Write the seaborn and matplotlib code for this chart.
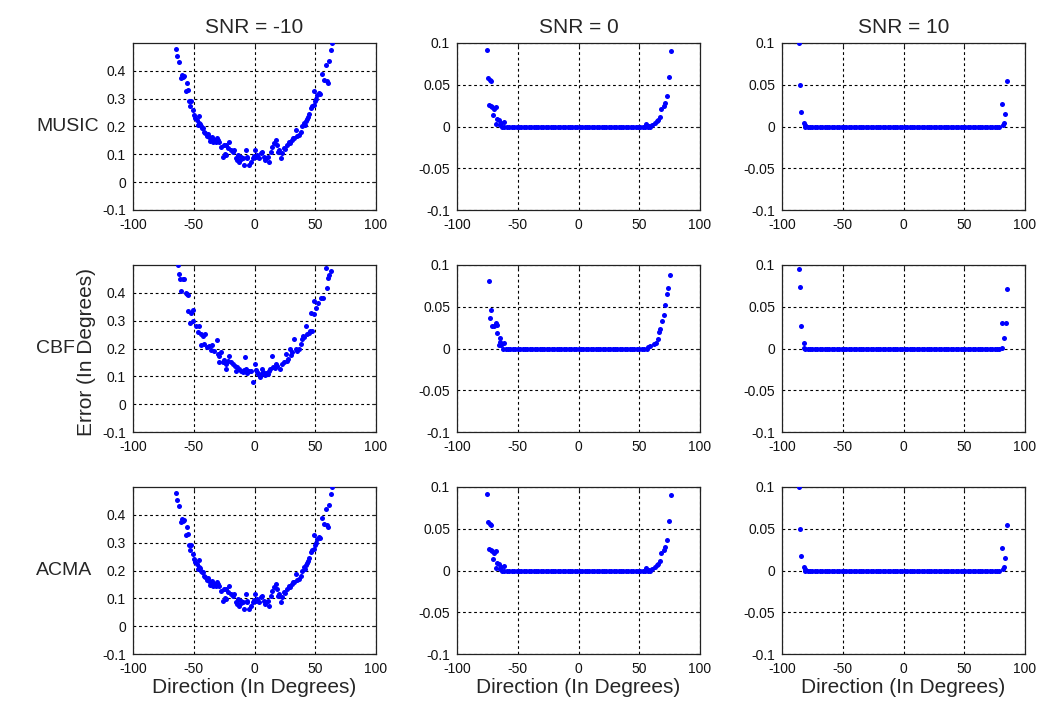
import matplotlib
matplotlib.use("Agg")
import matplotlib.pyplot as plt
import seaborn as sns
import pandas as pd

# ---------------- data ----------------
methods = ["MUSIC", "CBF", "ACMA"]
snr_titles = ["SNR = -10", "SNR = 0", "SNR = 10"]

x_ticks = [-100, -50, 0, 50, 100]
x_tick_labels = ["-100", "-50", "0", "50", "100"]
y_ticks_low = [-0.1, 0, 0.1, 0.2, 0.3, 0.4]
y_tick_labels_low = ["-0.1", "0", "0.1", "0.2", "0.3", "0.4"]
y_ticks_high = [-0.1, -0.05, 0, 0.05, 0.1]
y_tick_labels_high = ["-0.1", "-0.05", "0", "0.05", "0.1"]

# SNR = -10
music_m10_x = [-65.0, -63.9, -61.8, -60.4, -59.5, -58.6, -57.7, -56.3, -55.7, -54.6,
               -54.1, -52.7, -51.9, -50.8, -49.5, -48.6, -47.3, -46.7, -45.9, -45.4,
               -44.5, -44.0, -43.2, -42.6, -41.5, -40.4, -39.3, -38.4, -37.2, -37.0,
               -35.8, -34.9, -34.0, -33.0, -32.0, -31.2, -30.1, -29.0, -27.6, -26.2,
               -25.0, -24.5, -23.5, -23.5, -22.1, -20.8, -19.4, -18.0, -16.7, -15.3,
               -14.5, -13.9, -12.6, -11.5, -10.8, -9.8, -8.5, -7.1, -6.5, -5.8,
               -4.4, -3.0, -1.6, -0.8, 0.5, 1.2, 2.4, 3.8, 5.2, 6.5,
               7.9, 8.8, 9.8, 11.0, 12.0, 13.5, 14.7, 16.1, 17.5, 18.8,
               19.5, 20.2, 21.6, 22.9, 24.3, 25.5, 27.0, 28.4, 29.5, 30.6,
               31.5, 32.5, 33.9, 35.2, 36.6, 38.0, 39.3, 40.7, 41.5, 42.1,
               43.0, 44.2, 45.0, 46.2, 47.5, 48.9, 48.9, 49.7, 50.5, 51.6,
               53.0, 54.0, 55.7, 57.1, 58.5, 59.3, 60.6, 61.2, 62.6, 63.4]
music_m10_y = [0.479, 0.455, 0.431, 0.374, 0.386, 0.378, 0.380, 0.329, 0.356, 0.332,
               0.292, 0.274, 0.290, 0.260, 0.242, 0.230, 0.222, 0.206, 0.236, 0.212,
               0.208, 0.200, 0.196, 0.194, 0.180, 0.176, 0.166, 0.172, 0.164, 0.149,
               0.158, 0.162, 0.146, 0.152, 0.144, 0.158, 0.150, 0.146, 0.128, 0.092,
               0.132, 0.101, 0.134, 0.098, 0.122, 0.146, 0.114, 0.110, 0.116, 0.086,
               0.080, 0.098, 0.074, 0.092, 0.085, 0.086, 0.062, 0.116, 0.088, 0.092,
               0.062, 0.071, 0.086, 0.094, 0.116, 0.090, 0.098, 0.086, 0.104, 0.110,
               0.092, 0.080, 0.086, 0.090, 0.074, 0.110, 0.128, 0.140, 0.152, 0.134,
               0.108, 0.114, 0.086, 0.104, 0.122, 0.120, 0.134, 0.146, 0.140, 0.152,
               0.160, 0.158, 0.188, 0.166, 0.170, 0.182, 0.200, 0.212, 0.205, 0.218,
               0.226, 0.234, 0.246, 0.266, 0.272, 0.278, 0.326, 0.290, 0.300, 0.314,
               0.320, 0.316, 0.389, 0.368, 0.422, 0.362, 0.356, 0.434, 0.475, 0.499]

cbf_m10_x = [-63.1, -62.3, -61.2, -60.4, -59.0, -57.7, -56.3, -55.5, -54.9, -54.6,
             -52.7, -52.2, -50.8, -50.3, -48.1, -46.7, -45.9, -44.0, -44.0, -42.1,
             -41.3, -40.4, -39.3, -37.2, -36.0, -35.0, -33.0, -31.2, -30.3, -29.5,
             -29.0, -27.6, -26.2, -25.0, -23.5, -23.5, -22.1, -20.8, -19.5, -18.0,
             -15.9, -15.3, -14.0, -12.6, -11.2, -9.8, -8.5, -7.6, -7.1, -6.0,
             -4.9, -3.2, -1.6, 0.5, 1.6, 2.4, 3.2, 4.3, 5.0, 6.0,
             7.1, 8.7, 9.5, 10.7, 12.0, 13.0, 14.2, 15.3, 16.5, 17.5,
             18.8, 20.8, 22.4, 24.3, 25.6, 26.5, 27.8, 29.2, 30.0, 31.1,
             32.5, 33.9, 35.2, 36.6, 38.0, 38.8, 39.9, 41.0, 42.1, 43.5,
             44.8, 46.0, 47.0, 46.2, 48.9, 48.9, 50.8, 52.4, 54.4, 56.3,
             59.0, 59.8, 60.6, 61.2, 62.6]
cbf_m10_y = [0.499, 0.467, 0.449, 0.407, 0.449, 0.451, 0.398, 0.395, 0.393, 0.335,
             0.293, 0.329, 0.338, 0.299, 0.281, 0.260, 0.281, 0.251, 0.213, 0.246,
             0.216, 0.251, 0.204, 0.210, 0.195, 0.213, 0.192, 0.230, 0.180, 0.150,
             0.174, 0.186, 0.150, 0.160, 0.144, 0.126, 0.156, 0.174, 0.150, 0.144,
             0.138, 0.120, 0.132, 0.126, 0.118, 0.114, 0.124, 0.168, 0.126, 0.112,
             0.120, 0.118, 0.078, 0.144, 0.122, 0.114, 0.110, 0.096, 0.108, 0.126,
             0.114, 0.105, 0.112, 0.108, 0.120, 0.125, 0.174, 0.132, 0.130, 0.146,
             0.138, 0.126, 0.144, 0.150, 0.180, 0.156, 0.162, 0.198, 0.175, 0.186,
             0.234, 0.198, 0.192, 0.198, 0.216, 0.234, 0.246, 0.240, 0.281, 0.251,
             0.257, 0.262, 0.263, 0.329, 0.323, 0.371, 0.347, 0.362, 0.383, 0.381,
             0.489, 0.419, 0.453, 0.465, 0.479]

acma_m10_x = list(music_m10_x)
acma_m10_y = list(music_m10_y)

# SNR = 0
music_0_tail_x = [-75.7, -74.3, -73.0, -72.2, -73.8, -72.2, -70.8, -69.7, -68.1, -70.3,
                  -67.0, -65.4, -67.6, -64.9, -63.5, -61.6,
                  55.8, 57.7, 60.5, 63.3, 64.6, 65.5, 66.9, 68.2, 70.2, 71.5,
                  72.9, 74.6, 76.0]
music_0_tail_y = [0.092, 0.058, 0.056, 0.054, 0.026, 0.025, 0.023, 0.021, 0.023, 0.014,
                  0.009, 0.008, 0.003, 0.002, 0.004, 0.005,
                  0.003, 0.001, 0.002, 0.004, 0.006, 0.008, 0.011, 0.021, 0.024, 0.028,
                  0.036, 0.059, 0.091]
music_0_flat_x = [-63, -61, -59, -57, -55, -53, -51, -49, -47, -45,
                  -43, -41, -39, -37, -35, -33, -31, -29, -27, -25,
                  -23, -21, -19, -17, -15, -13, -11, -9, -7, -5,
                  -3, -1, 1, 3, 5, 7, 9, 11, 13, 15,
                  17, 19, 21, 23, 25, 27, 29, 31, 33, 35,
                  37, 39, 41, 43, 45, 47, 49, 51, 53, 55,
                  57, 59]
music_0_flat_y = [0, 0, 0, 0, 0, 0, 0, 0, 0, 0,
                  0, 0, 0, 0, 0, 0, 0, 0, 0, 0,
                  0, 0, 0, 0, 0, 0, 0, 0, 0, 0,
                  0, 0, 0, 0, 0, 0, 0, 0, 0, 0,
                  0, 0, 0, 0, 0, 0, 0, 0, 0, 0,
                  0, 0, 0, 0, 0, 0, 0, 0, 0, 0,
                  0, 0]

cbf_0_tail_x = [-73.5, -72.2, -73.0, -71.4, -69.5, -68.2, -67.4, -66.8, -65.0, -64.2,
                -65.5, -63.4, -61.5,
                57.2, 59.1, 61.9, 63.8, 65.5, 66.0, 67.4, 68.8, 70.2, 71.5,
                72.9, 73.8, 75.5]
cbf_0_tail_y = [0.081, 0.046, 0.036, 0.027, 0.027, 0.030, 0.028, 0.018, 0.013, 0.008,
                0.004, 0.004, 0.006,
                0.002, 0.0035, 0.005, 0.007, 0.011, 0.020, 0.0235, 0.0335, 0.040, 0.0525,
                0.065, 0.0725, 0.088]
cbf_0_flat_x = [-62, -60, -58, -56, -54, -52, -50, -48, -46, -44,
                -42, -40, -38, -36, -34, -32, -30, -28, -26, -24,
                -22, -20, -18, -16, -14, -12, -10, -8, -6, -4,
                -2, 0, 2, 4, 6, 8, 10, 12, 14, 16,
                18, 20, 22, 24, 26, 28, 30, 32, 34, 36,
                38, 40, 42, 44, 46, 48, 50, 52, 54, 56]
cbf_0_flat_y = [0, 0, 0, 0, 0, 0, 0, 0, 0, 0,
                0, 0, 0, 0, 0, 0, 0, 0, 0, 0,
                0, 0, 0, 0, 0, 0, 0, 0, 0, 0,
                0, 0, 0, 0, 0, 0, 0, 0, 0, 0,
                0, 0, 0, 0, 0, 0, 0, 0, 0, 0,
                0, 0, 0, 0, 0, 0, 0, 0, 0, 0]

acma_0_tail_x = list(music_0_tail_x)
acma_0_tail_y = list(music_0_tail_y)
acma_0_flat_x = list(music_0_flat_x)
acma_0_flat_y = list(music_0_flat_y)

# SNR = 10
music_10_tail_x = [-86.3, -85.5, -84.4, -82.2, -81.4, 81.1, 82.2, 83.0, 83.6, 84.9]
music_10_tail_y = [0.0996, 0.050, 0.017, 0.0036, 0.0016, 0.027, 0.0016, 0.0036, 0.015, 0.055]
cbf_10_tail_x = [-86.3, -85.5, -84.4, -82.2, -81.6, 80.8, 84.4, 83.0, 80.8, 84.9]
cbf_10_tail_y = [0.095, 0.074, 0.027, 0.006, 0.001, 0.030, 0.030, 0.013, 0.001, 0.071]
flat_10_x = [-81, -79, -77, -75, -73, -71, -69, -67, -65, -63,
             -61, -59, -57, -55, -53, -51, -49, -47, -45, -43,
             -41, -39, -37, -35, -33, -31, -29, -27, -25, -23,
             -21, -19, -17, -15, -13, -11, -9, -7, -5, -3,
             -1, 1, 3, 5, 7, 9, 11, 13, 15, 17,
             19, 21, 23, 25, 27, 29, 31, 33, 35, 37,
             39, 41, 43, 45, 47, 49, 51, 53, 55, 57,
             59, 61, 63, 65, 67, 69, 71, 73, 75, 77,
             79]
flat_10_y = [0, 0, 0, 0, 0, 0, 0, 0, 0, 0,
             0, 0, 0, 0, 0, 0, 0, 0, 0, 0,
             0, 0, 0, 0, 0, 0, 0, 0, 0, 0,
             0, 0, 0, 0, 0, 0, 0, 0, 0, 0,
             0, 0, 0, 0, 0, 0, 0, 0, 0, 0,
             0, 0, 0, 0, 0, 0, 0, 0, 0, 0,
             0, 0, 0, 0, 0, 0, 0, 0, 0, 0,
             0, 0, 0, 0, 0, 0, 0, 0, 0, 0,
             0]
acma_10_tail_x = list(music_10_tail_x)
acma_10_tail_y = list(music_10_tail_y)

# ---------------- assemble ----------------
panels = {
    (0, 0): (music_m10_x, music_m10_y),
    (1, 0): (cbf_m10_x, cbf_m10_y),
    (2, 0): (acma_m10_x, acma_m10_y),
    (0, 1): (music_0_flat_x + music_0_tail_x, music_0_flat_y + music_0_tail_y),
    (1, 1): (cbf_0_flat_x + cbf_0_tail_x, cbf_0_flat_y + cbf_0_tail_y),
    (2, 1): (acma_0_flat_x + acma_0_tail_x, acma_0_flat_y + acma_0_tail_y),
    (0, 2): (flat_10_x + music_10_tail_x, flat_10_y + music_10_tail_y),
    (1, 2): (flat_10_x + cbf_10_tail_x, flat_10_y + cbf_10_tail_y),
    (2, 2): (flat_10_x + acma_10_tail_x, flat_10_y + acma_10_tail_y),
}

# ---------------- drawing ----------------
sns.set_theme(style="white")
plt.rcParams["font.family"] = ["Liberation Sans", "DejaVu Sans"]

W, H = 1039, 704
fig = plt.figure(figsize=(W / 100, H / 100), dpi=100)
fig.patch.set_facecolor("white")

col_left = [133, 457, 782]
col_width = 243
row_top = [43, 265, 487]
row_height = 167

for (r, c), (xs, ys) in panels.items():
    ax = fig.add_axes([col_left[c] / W, 1 - (row_top[r] + row_height) / H,
                       col_width / W, row_height / H])
    df = pd.DataFrame({"direction": xs, "error": ys})
    sns.scatterplot(data=df, x="direction", y="error", ax=ax, color="#0000ff",
                    s=13, linewidth=0, legend=False, zorder=3)
    ax.set_xlim(-100, 100)
    ax.set_xticks(x_ticks)
    ax.set_xticklabels(x_tick_labels)
    if c == 0:
        ax.set_ylim(-0.1, 0.5)
        ax.set_yticks(y_ticks_low)
        ax.set_yticklabels(y_tick_labels_low)
    else:
        ax.set_ylim(-0.1, 0.1)
        ax.set_yticks(y_ticks_high)
        ax.set_yticklabels(y_tick_labels_high)
    ax.grid(True, color="black", linestyle=(0, (2.5, 2.5)), linewidth=0.8)
    ax.set_axisbelow(True)
    ax.tick_params(direction="in", length=3, width=0.8, labelsize=10,
                   top=True, right=True, colors="#222222", labelcolor="#111111")
    ax.tick_params(axis="x", pad=6)
    ax.tick_params(axis="y", pad=5)
    for sp in ax.spines.values():
        sp.set_color("#222222")
        sp.set_linewidth(0.9)
    ax.set_xlabel("")
    ax.set_ylabel("")
    if r == 0:
        ax.set_title(snr_titles[c], fontsize=15, pad=7)
    if r == 2:
        ax.set_xlabel("Direction (In Degrees)", fontsize=15, labelpad=1)

for r, name in enumerate(methods):
    yc = 1 - (row_top[r] + row_height / 2) / H
    fig.text(36 / W, yc, name, fontsize=14, ha="left", va="center")

fig.text(86 / W, 1 - 352 / H, "Error (In Degrees)", fontsize=15, rotation=90,
         ha="center", va="center")

fig.savefig("out.png", dpi=100, facecolor="white")
